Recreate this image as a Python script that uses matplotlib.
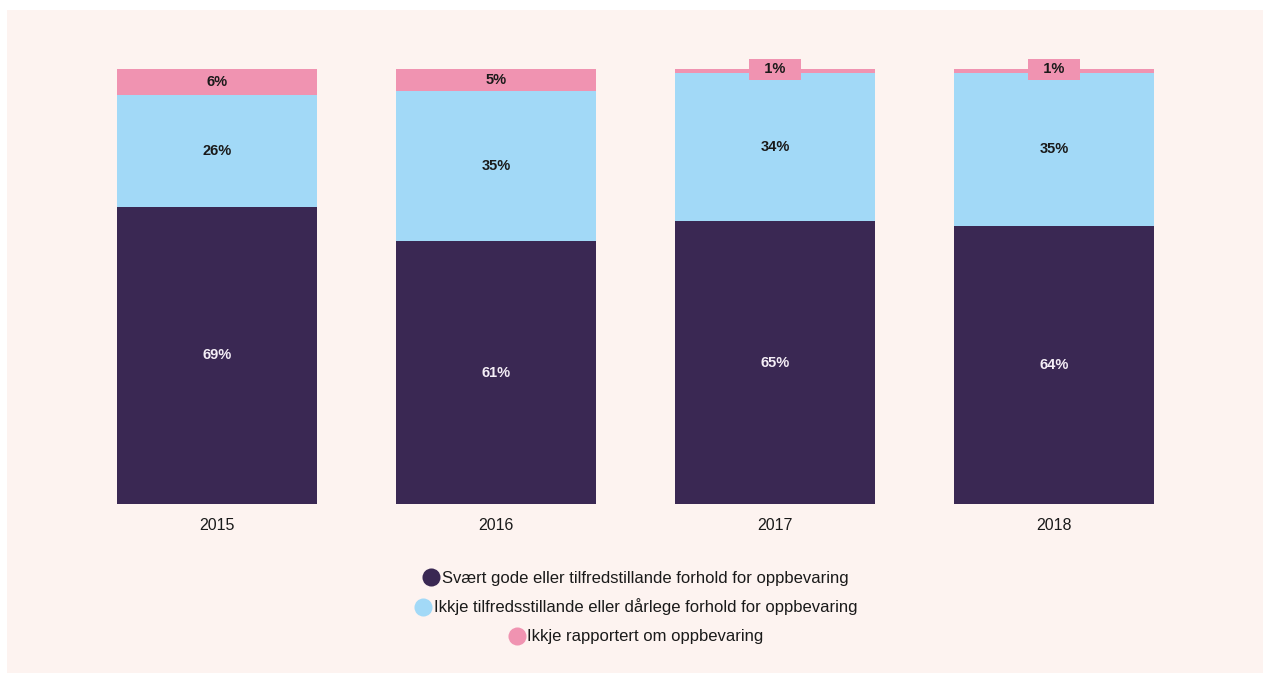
import matplotlib
matplotlib.use("Agg")
import matplotlib.pyplot as plt
from matplotlib.lines import Line2D
import numpy as np

plt.rcParams["font.family"] = ["Liberation Sans", "DejaVu Sans"]

years = ["2015", "2016", "2017", "2018"]
gode = [69, 61, 65, 64]
ikkje_tilfreds = [26, 35, 34, 35]
ikkje_rapportert = [6, 5, 1, 1]

series_names = [
    "Svært gode eller tilfredstillande forhold for oppbevaring",
    "Ikkje tilfredsstillande eller dårlege forhold for oppbevaring",
    "Ikkje rapportert om oppbevaring",
]

BG = "#fdf3f0"
C_DARK = "#3a2853"
C_BLUE = "#a2d9f7"
C_PINK = "#f093b1"
TXT = "#1a1a1a"

W, H = 1268, 673
fig = plt.figure(figsize=(W / 100, H / 100), dpi=100)
fig.patch.set_facecolor("white")
# light panel behind the chart
fig.patches.append(plt.Rectangle((7 / W, 0), (1263 - 7) / W, (H - 10) / H,
                                 transform=fig.transFigure, fc=BG, ec="none", zorder=-5))

ax = fig.add_axes([77.5 / W, 1 - 504 / H, 1116 / W, (504 - 69) / H])
ax.set_facecolor("none")
ax.set_zorder(2)

x = np.arange(len(years))
vals = np.array([gode, ikkje_tilfreds, ikkje_rapportert], dtype=float)
tot = vals.sum(axis=0)
shares = vals / tot * 100  # bars are drawn as 100 % stacks
colors = [C_DARK, C_BLUE, C_PINK]
txt_colors = ["#f4eef6", TXT, TXT]

bottom = np.zeros(len(years))
for i in range(3):
    ax.bar(x, shares[i], 0.72, bottom=bottom, color=colors[i], linewidth=0)
    for j in range(len(years)):
        yc = bottom[j] + shares[i][j] / 2
        lab = f"{int(vals[i][j])}%"
        if vals[i][j] < 3:
            # tiny segment: label sits in a small pink box on top
            ax.text(x[j], yc + 0.4, "   " + lab + "   ", ha="center", va="center",
                    fontsize=10.5, fontweight="bold", color=txt_colors[i],
                    bbox=dict(boxstyle="square,pad=0.22", fc=colors[i], ec="none"))
        else:
            ax.text(x[j], yc, lab, ha="center", va="center",
                    fontsize=10.5, fontweight="bold", color=txt_colors[i])
    bottom += shares[i]

ax.set_xlim(-0.5, len(years) - 0.5)
ax.set_ylim(0, 100)
ax.set_xticks(x)
ax.set_xticklabels(years, fontsize=11.5, color=TXT)
ax.tick_params(axis="x", length=0, pad=10)
ax.set_yticks([])
for s in ax.spines.values():
    s.set_visible(False)

# legend: one centred row per series
rows_y = [578, 607, 637]
for name, col, ry in zip(series_names, colors, rows_y):
    h = Line2D([], [], marker="o", ls="none", markersize=13,
               markerfacecolor=col, markeredgecolor="none")
    fig.legend([h], [name], loc="center", bbox_to_anchor=(636 / W, 1 - ry / H),
               frameon=False, fontsize=12, handletextpad=0.15,
               handlelength=1.0, borderpad=0, labelcolor=TXT)

fig.savefig("out.png", dpi=100, facecolor=fig.get_facecolor())
